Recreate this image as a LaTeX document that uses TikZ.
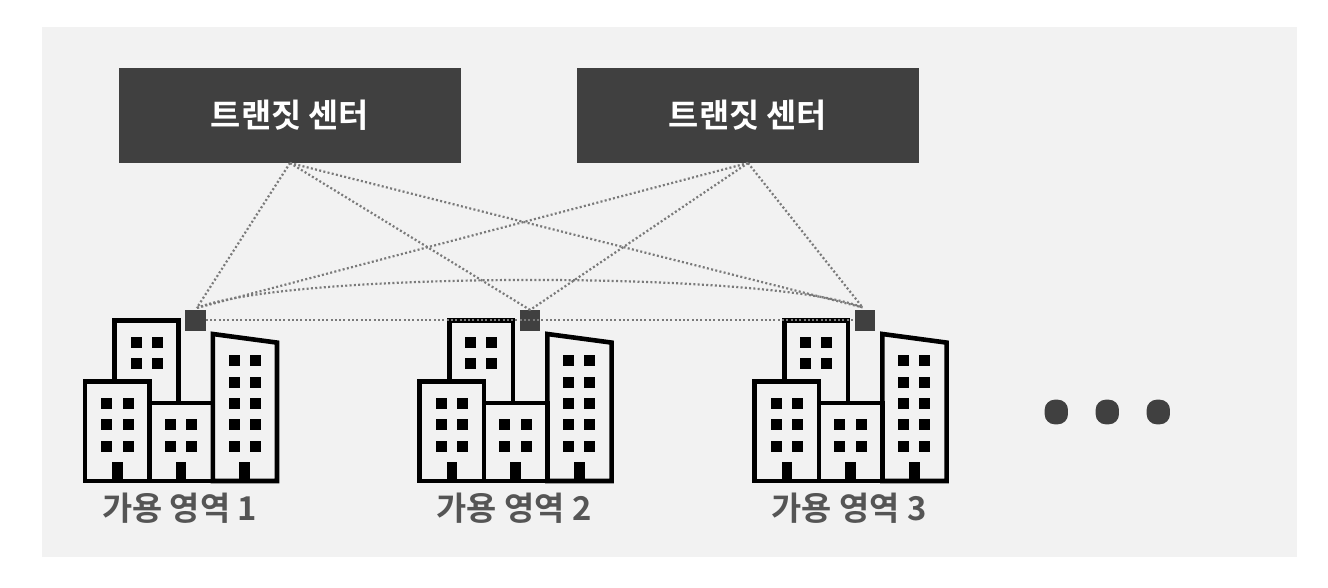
\documentclass[tikz,border=0pt]{standalone}
\usepackage{fontspec}
\usetikzlibrary{shapes.geometric}
\newfontfamily\krfont{Noto Sans CJK KR}[BoldFont={Noto Sans CJK KR Bold}]
\definecolor{panel}{HTML}{F2F2F2}
\definecolor{dark}{HTML}{404040}
\definecolor{labelgray}{HTML}{555555}
\definecolor{linkgray}{HTML}{7A7A7A}
\tikzset{
  centerbox/.style={fill=dark,text=white,minimum width=342pt,minimum height=95pt,inner sep=0pt,outer sep=0pt,font=\krfont\bfseries\fontsize{32.8}{36}\selectfont},
  port/.style={fill=dark,minimum size=20.7pt,inner sep=0pt,outer sep=0pt},
  zonelabel/.style={text=labelgray,inner sep=0pt,font=\krfont\bfseries\fontsize{32.8}{36}\selectfont},
  link/.style={draw=linkgray,line width=2.2pt,dash pattern=on 2pt off 2.3pt},
  wall/.style={draw=black,line width=4.6pt,miter limit=10},
  win/.style={fill=black},
  moredot/.style={fill=dark,rectangle,rounded corners=10pt,minimum width=23.3pt,minimum height=24.6pt,inner sep=0pt}
}
\newcommand{\win}[2]{\fill[win] (#1-5.5,#2-5.5) rectangle (#1+5.5,#2+5.5);}
\begin{document}
\begin{tikzpicture}[x=1pt,y=-1pt]
\useasboundingbox (0,0) rectangle (1328,588);
\fill[white] (0,0) rectangle (1328,588);
\fill[panel] (42,27) rectangle (1297,557);
\node[centerbox] (b1) at (290,115.5) {\raisebox{-0.7pt}{트랜짓 센터}};
\node[centerbox] (b2) at (748,115.5) {\raisebox{-0.7pt}{트랜짓 센터}};
\foreach \i/\dx/\lab in {1/0/1,2/334.6/2,3/669.6/3}{
  \begin{scope}[shift={(\dx,0)}]
    \draw[wall] (114.6,381) -- (114.6,320.4) -- (178.4,320.4) -- (178.4,403);
    \draw[wall] (85,481) -- (85,381.6) -- (149.5,381.6) -- (149.5,481) -- cycle;
    \draw[wall] (149.5,481) -- (149.5,403) -- (212.8,403) -- (212.8,481) -- cycle;
    \draw[wall] (212.8,481) -- (212.8,334) -- (277,342.6) -- (277,481) -- cycle;
    \foreach \x/\y in {136/342,157.3/342,136/363.3,157.3/363.3,
      106.7/403.3,128/403.3,106.7/424.7,128/424.7,106.7/446,128/446,
      170.3/424.7,191.7/424.7,170.3/446,191.7/446,
      234/360.7,255.3/360.7,234/382,255.3/382,234/403.3,255.3/403.3,234/424.7,255.3/424.7,234/446,255.3/446}
      {\win{\x}{\y}}
    \fill (112.3,461.7) rectangle (122.7,481);
    \fill (175.7,461.7) rectangle (186.3,481);
    \fill (239.3,461.7) rectangle (250,481);
    \node[port] (s\i) at (195.5,320.3) {};
    \node[zonelabel] (z\i) at (179.5,508.5) {가용 영역 \lab};
  \end{scope}
}
\coordinate (t1) at ([shift={(1.3,-2)}]s1.north);
\coordinate (t2) at (s2.north);
\coordinate (t3) at ([shift={(-2.5,-2.5)}]s3.north);
\foreach \b in {b1,b2}{
  \foreach \s in {t1,t2,t3}{
    \draw[link] (\b.south) -- (\s);
  }
}
\draw[link] (t1) .. controls ([shift={(93,-37)}]t1) and ([shift={(-93,-37)}]t3) .. (t3);
\draw[link] (s1.east) -- (s3.west);
\node[moredot] (d1) at (1056.3,412) {};
\node[moredot] (d2) at (1107.3,412) {};
\node[moredot] (d3) at (1158.3,412) {};
\end{tikzpicture}
\end{document}
